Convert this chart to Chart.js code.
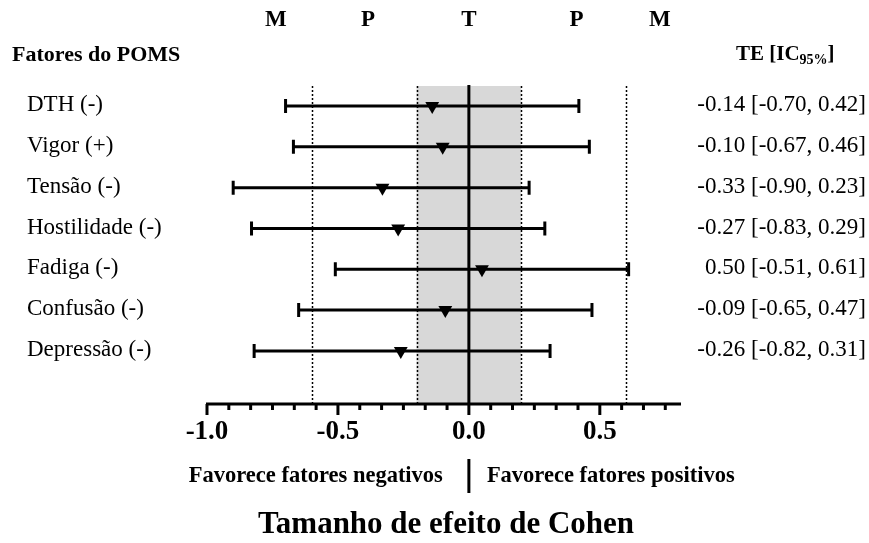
<!DOCTYPE html>
<html>
<head>
<meta charset="utf-8">
<script src="https://cdn.jsdelivr.net/npm/chart.js@4.4.1/dist/chart.umd.min.js"></script>
<style>
  html, body { margin: 0; padding: 0; background: #fff; }
  #wrap { width: 869px; height: 543px; }
</style>
</head>
<body>
<div id="wrap"><canvas id="forest" width="869" height="543"></canvas></div>
<script>
// POMS factors, effect sizes and 95% CI
const factors = ['DTH (-)', 'Vigor (+)', 'Tensão (-)', 'Hostilidade (-)', 'Fadiga (-)', 'Confusão (-)', 'Depressão (-)'];
const effects = [-0.14, -0.10, -0.33, -0.27, 0.05, -0.09, -0.26];
const ciLow   = [-0.70, -0.67, -0.90, -0.83, -0.51, -0.65, -0.82];
const ciHigh  = [0.42, 0.46, 0.23, 0.29, 0.61, 0.47, 0.31];
const teLabels = ['-0.14 [-0.70, 0.42]', '-0.10 [-0.67, 0.46]', '-0.33 [-0.90, 0.23]', '-0.27 [-0.83, 0.29]', '0.50 [-0.51, 0.61]', '-0.09 [-0.65, 0.47]', '-0.26 [-0.82, 0.31]'];

const xTicks = [-1.0, -0.5, 0.0, 0.5];
const xTickLabels = ['-1.0', '-0.5', '0.0', '0.5'];
const bandLetters = ['M', 'P', 'T', 'P', 'M'];
const bandLetterX = [-0.737, -0.385, 0, 0.411, 0.729];
const smallEffect = 0.2;
const mediumEffect = 0.6;

const serif = '"Liberation Serif", "Times New Roman", serif';

const pointData = effects.map((v, i) => ({ x: v, y: i }));

const forestPlugin = {
  id: 'forest',
  beforeDatasetsDraw(chart) {
    const { ctx, chartArea: a, scales: { x, y } } = chart;
    ctx.save();
    // trivial band
    ctx.fillStyle = '#d8d8d8';
    const b0 = x.getPixelForValue(-smallEffect), b1 = x.getPixelForValue(smallEffect);
    ctx.fillRect(b0, a.top, b1 - b0, a.bottom - a.top);

    // dotted reference lines
    ctx.strokeStyle = '#000';
    ctx.lineWidth = 1.5;
    ctx.setLineDash([2, 2]);
    [-mediumEffect, -smallEffect, smallEffect, mediumEffect].forEach(v => {
      const px = Math.round(x.getPixelForValue(v)) + 0.5;
      ctx.beginPath();
      ctx.moveTo(px, a.top);
      ctx.lineTo(px, a.bottom);
      ctx.stroke();
    });
    ctx.setLineDash([]);

    // zero line
    ctx.lineWidth = 3;
    const z = x.getPixelForValue(0);
    ctx.beginPath();
    ctx.moveTo(z, a.top - 1);
    ctx.lineTo(z, a.bottom);
    ctx.stroke();

    // confidence intervals
    ctx.lineWidth = 3;
    factors.forEach((f, i) => {
      const py = y.getPixelForValue(i);
      const l = x.getPixelForValue(ciLow[i]);
      const h = x.getPixelForValue(ciHigh[i]);
      ctx.beginPath();
      ctx.moveTo(l, py);
      ctx.lineTo(h, py);
      ctx.moveTo(l, py - 7);
      ctx.lineTo(l, py + 7);
      ctx.moveTo(h, py - 7);
      ctx.lineTo(h, py + 7);
      ctx.stroke();
    });
    ctx.restore();
  },
  afterDraw(chart) {
    const { ctx, chartArea: a, scales: { x, y } } = chart;
    ctx.save();
    ctx.fillStyle = '#000';
    ctx.strokeStyle = '#000';

    // x axis
    const ay = a.bottom;
    ctx.lineWidth = 3;
    ctx.beginPath();
    ctx.moveTo(a.left - 1, ay);
    ctx.lineTo(a.right, ay);
    ctx.stroke();
    for (let k = 0; k <= 21; k++) {
      const v = -1 + k / 12;
      const px = x.getPixelForValue(v);
      const major = k % 6 === 0;
      ctx.lineWidth = 3;
      ctx.beginPath();
      ctx.moveTo(px, ay);
      ctx.lineTo(px, ay + (major ? 11 : 6));
      ctx.stroke();
    }
    ctx.font = 'bold 27px ' + serif;
    ctx.textAlign = 'center';
    ctx.textBaseline = 'middle';
    xTicks.forEach((v, i) => ctx.fillText(xTickLabels[i], x.getPixelForValue(v), 432));

    // band letters on top
    ctx.font = 'bold 23px ' + serif;
    bandLetters.forEach((t, i) => ctx.fillText(t, x.getPixelForValue(bandLetterX[i]), 20));

    // headers
    ctx.textAlign = 'left';
    ctx.font = 'bold 22px ' + serif;
    ctx.fillText('Fatores do POMS', 12, 55);
    ctx.font = 'bold 21px ' + serif;
    let hx = 736;
    ctx.fillText('TE [IC', hx, 55);
    hx += ctx.measureText('TE [IC').width;
    ctx.font = 'bold 14px ' + serif;
    ctx.fillText('95%', hx, 60);
    hx += ctx.measureText('95%').width;
    ctx.font = 'bold 21px ' + serif;
    ctx.fillText(']', hx, 55);

    // row labels and effect-size text
    ctx.font = '23px ' + serif;
    factors.forEach((f, i) => {
      const py = y.getPixelForValue(i) - 1;
      ctx.textAlign = 'left';
      ctx.fillText(f, 27, py);
      ctx.textAlign = 'right';
      ctx.fillText(teLabels[i], 866, py);
    });

    // bottom notes
    const z = x.getPixelForValue(0);
    ctx.font = 'bold 22.5px ' + serif;
    ctx.textAlign = 'right';
    ctx.fillText('Favorece fatores negativos', z - 26, 476);
    ctx.textAlign = 'left';
    ctx.fillText('Favorece fatores positivos', z + 18, 476);
    ctx.lineWidth = 3;
    ctx.beginPath();
    ctx.moveTo(z, 459);
    ctx.lineTo(z, 493);
    ctx.stroke();

    ctx.textAlign = 'center';
    ctx.font = 'bold 31px ' + serif;
    ctx.fillText('Tamanho de efeito de Cohen', 446, 525);
    ctx.restore();
  }
};

const chart = new Chart(document.getElementById('forest'), {
  type: 'scatter',
  data: {
    datasets: [{
      label: 'TE',
      data: pointData,
      pointStyle: 'triangle',
      rotation: 180,
      pointRadius: 8,
      pointHoverRadius: 8,
      backgroundColor: '#000',
      borderColor: '#000',
      borderWidth: 0
    }]
  },
  options: {
    responsive: false,
    animation: false,
    devicePixelRatio: 1,
    layout: { padding: { left: 207, right: 188, top: 86, bottom: 139 } },
    plugins: { legend: { display: false }, tooltip: { enabled: false } },
    scales: {
      x: { type: 'linear', min: -1, max: 0.81, display: false },
      y: { type: 'linear', min: -0.49, max: 7.30, reverse: true, display: false }
    }
  },
  plugins: [forestPlugin]
});
</script>
</body>
</html>
